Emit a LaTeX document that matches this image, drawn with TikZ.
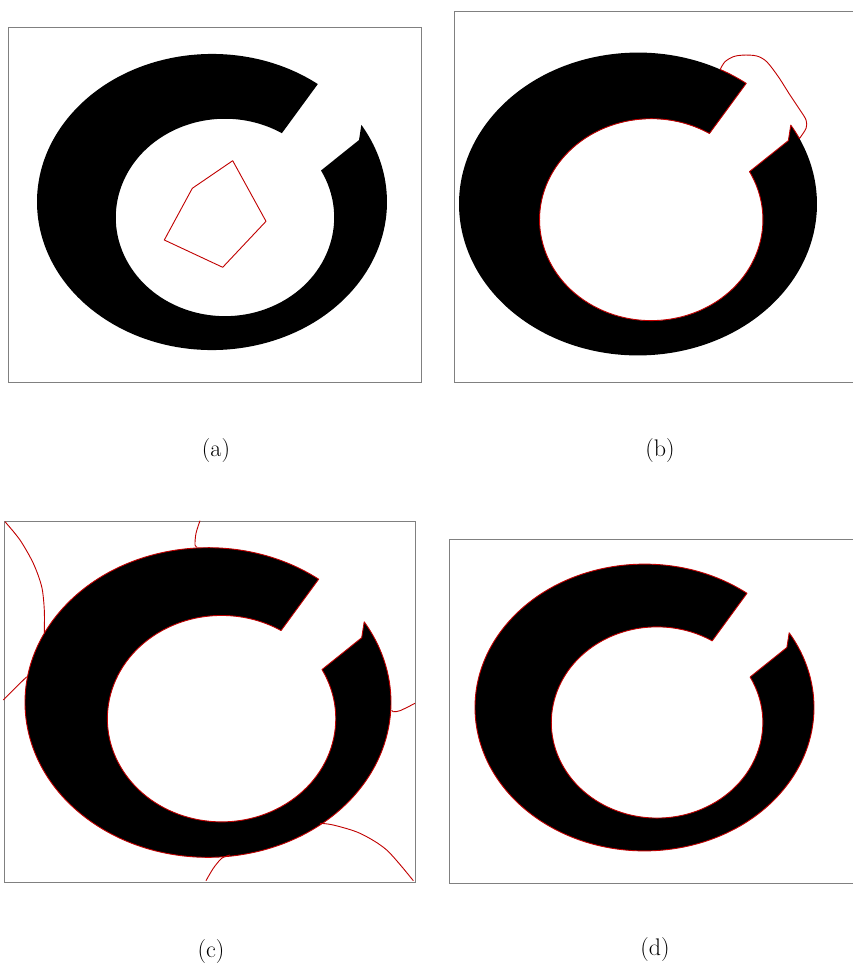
\documentclass[tikz,border=0pt]{standalone}
\usepackage{tikz}
\definecolor{ctour}{RGB}{192,0,0}
\begin{document}
\begin{tikzpicture}[x=1pt,y=1pt,
   frame/.style={draw=black!50,line width=0.8pt},
   contour/.style={draw=ctour,line width=0.9pt,line join=round},
   lbl/.style={font=\fontsize{24}{29}\selectfont}]
\useasboundingbox (0,0) rectangle (853,-963);
% cut ring, unit = outer x radius, origin = centre of the outer ellipse
\newcommand{\ringpath}{(52.8:1 and 0.846) arc[start angle=52.8,end angle=391.4,x radius=1,y radius=0.846]
  -- (0.84,0.354) -- (0.623,0.180) arc[start angle=28.4,end angle=-301.4,x radius=0.624,y radius=0.564] -- cycle}
\newcommand{\ring}[4]{\begin{scope}[shift={(#1,#2)},scale=#3]
  \fill[black] \ringpath;
  #4
\end{scope}}
% (a) initial polygon
\draw[frame] (8,-27) rectangle (421,-382);
\ring{212}{-202}{175}{}
\draw[contour] (232.7,-160.7) -- (266,-221.3) -- (222.7,-267.3) -- (164.3,-240) -- (192.3,-188.3) -- cycle;
\node[lbl] (capa) at (216,-451) {(a)};
% (b) contour through the cut
\draw[frame] (853,-11.7) -- (454.3,-11.7) -- (454.3,-382.3) -- (853,-382.3);
\ring{638}{-204}{179}{\draw[contour] (62.7:1 and 0.846) arc[start angle=62.7,end angle=52.8,x radius=1,y radius=0.846]
  -- (0.399,0.394) arc[start angle=58.6,end angle=388.4,x radius=0.624,y radius=0.564]
  -- (0.84,0.354) -- (31.4:1 and 0.846) arc[start angle=31.4,end angle=25.6,x radius=1,y radius=0.846]
  -- plot[smooth] coordinates {(0.902,0.366) (0.939,0.423) (0.939,0.469) (0.905,0.525) (0.849,0.609) (0.784,0.711)
     (0.719,0.795) (0.663,0.827) (0.588,0.832) (0.533,0.823) (0.486,0.795) (0.459,0.752)} -- cycle;}
\node[lbl] (capb) at (660,-451) {(b)};
% (c) full outline plus stray curves
\draw[frame] (4,-521) rectangle (415,-882);
\ring{208}{-702.5}{183}{\draw[contour] \ringpath;}
\draw[contour] plot[smooth] coordinates {(5,-521.7) (20,-540) (33.3,-563.3) (41.7,-586.7) (44.3,-610) (44.3,-633.3)};
\draw[contour] plot[smooth] coordinates {(26.7,-676.7) (15,-688.3) (3.3,-700)};
\draw[contour] plot[smooth] coordinates {(200,-520.7) (196,-533.3) (195,-545) (197.3,-547.3)};
\draw[contour] plot[smooth] coordinates {(391.7,-710) (393.3,-711.7) (400,-710.7) (415,-703.3)};
\draw[contour] plot[smooth] coordinates {(320,-823.3) (333.3,-825) (360,-833.3) (386.7,-850) (413.3,-880.7)};
\draw[contour] plot[smooth] coordinates {(230,-855) (221.7,-858.3) (213.3,-868.3) (206,-880.7)};
\node[lbl] (capc) at (211,-951) {(c)};
% (d) final outline
\draw[frame] (853,-539) -- (449,-539) -- (449,-883) -- (853,-883);
\ring{644.5}{-707.5}{169.5}{\draw[contour] \ringpath;}
\node[lbl] (capd) at (655,-949) {(d)};
\end{tikzpicture}
\end{document}
